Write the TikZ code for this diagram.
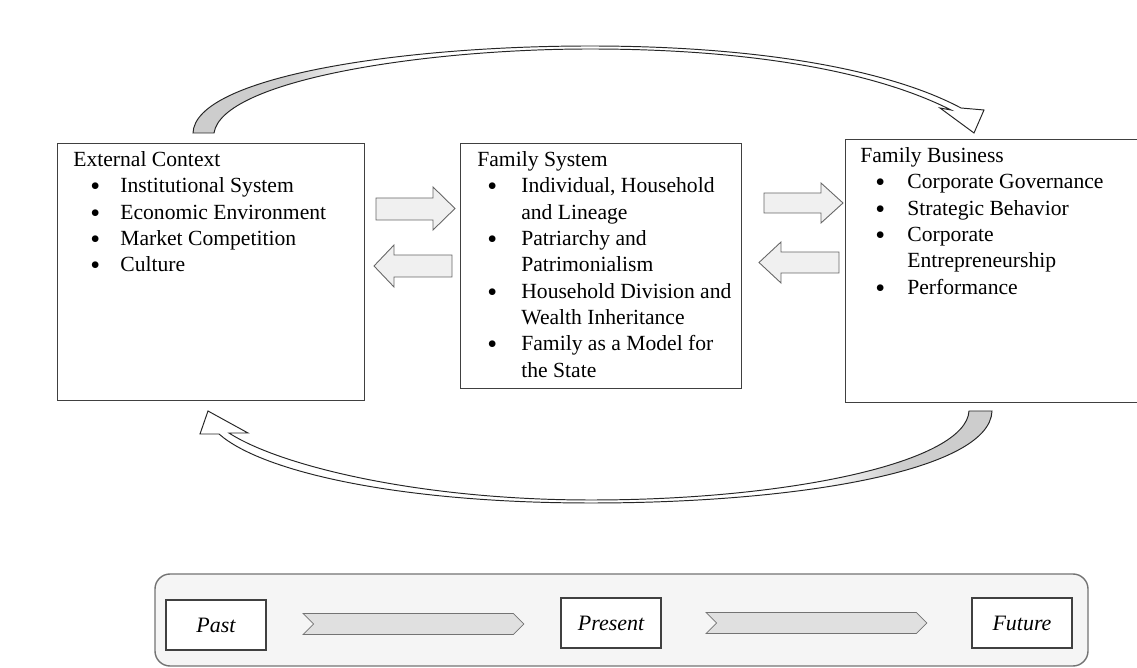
\documentclass[tikz,border=0pt]{standalone}
\usepackage{fontspec}
\setmainfont{Liberation Serif}
\usetikzlibrary{calc,positioning,shapes.symbols}
\definecolor{tailgray}{RGB}{205,205,205}
\pgfdeclarehorizontalshading{topfade}{100bp}{color(0bp)=(tailgray); color(25bp)=(tailgray); color(31bp)=(tailgray); color(36bp)=(white); color(100bp)=(white)}
\pgfdeclarehorizontalshading{botfade}{100bp}{color(0bp)=(white); color(64bp)=(white); color(69bp)=(tailgray); color(75bp)=(tailgray); color(100bp)=(tailgray)}
\newcommand{\bl}[3]{\hspace*{#1}\makebox[#2][l]{\raisebox{-0.3ex}{\fontsize{16}{15}\selectfont\textbullet}}#3}

\begin{document}
\begin{tikzpicture}[x=0.02cm,y=-0.02cm,
  panel/.style={draw=black!75,line width=0.7pt,inner sep=0pt,anchor=north west},
  paneltext/.style={inner sep=0pt,anchor=north west,align=left,font=\fontsize{12.3}{15}\selectfont},
  blockarrow/.style={draw=black!60,fill=black!6,line width=0.5pt},
  loopband/.style={draw=black!85,line width=0.55pt,shade},
  frame/.style={draw=black!55,fill=black!4,rounded corners=0.3cm,line width=0.8pt},
  tbox/.style={draw=black!75,fill=white,line width=0.8pt,minimum width=2cm,minimum height=1cm,font=\fontsize{12.5}{15}\selectfont\itshape},
  chev/.style={signal,signal from=west,signal to=east,draw=black!55,fill=black!12,minimum width=4.42cm,minimum height=0.42cm,inner sep=0pt}]
\useasboundingbox (0,0) rectangle (1137,668);
\clip (0,0) rectangle (1137,668);

\node[panel,minimum width=6.14cm,minimum height=5.14cm] (ext) at (57,143) {};
\node[paneltext] (exttxt) at ([shift={(16,8)}]ext.north west) {External Context\\
\bl{0.34cm}{0.6cm}{Institutional System}\\
\bl{0.34cm}{0.6cm}{Economic Environment}\\
\bl{0.34cm}{0.6cm}{Market Competition}\\
\bl{0.34cm}{0.6cm}{Culture}};

\node[panel,minimum width=5.62cm,minimum height=4.9cm] (fam) at (460,143) {};
\node[paneltext] (famtxt) at ([shift={(17,8)}]fam.north west) {Family System\\
\bl{0.2cm}{0.68cm}{Individual, Household}\\
\hspace*{0.88cm}and Lineage\\
\bl{0.2cm}{0.68cm}{Patriarchy and}\\
\hspace*{0.88cm}Patrimonialism\\
\bl{0.2cm}{0.68cm}{Household Division and}\\
\hspace*{0.88cm}Wealth Inheritance\\
\bl{0.2cm}{0.68cm}{Family as a Model for}\\
\hspace*{0.88cm}the State};

\node[panel,minimum width=6.4cm,minimum height=5.26cm] (biz) at (845,139) {};
\node[paneltext] (biztxt) at ([shift={(15,8)}]biz.north west) {Family Business\\
\bl{0.3cm}{0.64cm}{Corporate Governance}\\
\bl{0.3cm}{0.64cm}{Strategic Behavior}\\
\bl{0.3cm}{0.64cm}{Corporate}\\
\hspace*{0.94cm}Entrepreneurship\\
\bl{0.3cm}{0.64cm}{Performance}};

\draw[blockarrow] (376,198) -- (433,198) -- (433,187) -- (455,208.5) -- (433,230) -- (433,220) -- (376,220) -- cycle;
\draw[blockarrow] (452,255) -- (394,255) -- (394,245) -- (374,266) -- (394,287) -- (394,277) -- (452,277) -- cycle;
\draw[blockarrow] (764,193) -- (821,193) -- (821,183) -- (843,203) -- (821,223) -- (821,213) -- (764,213) -- cycle;
\draw[blockarrow] (839,252) -- (781,252) -- (781,242) -- (759,262.5) -- (781,283) -- (781,273) -- (839,273) -- cycle;

\path[loopband,shading=topfade] (193,133) .. controls (195,77) and (400,46) .. (590,46) .. controls (760,46) and (890,70) .. (961,108) -- (984,110) -- (974,133) -- (940,108) -- (951,110) .. controls (880,74) and (760,49) .. (590,49) .. controls (425,49) and (222,80) .. (214,133) -- cycle;
\path[loopband,shading=botfade] (969,411) -- (992,411) .. controls (990,470) and (800,503) .. (591,503) .. controls (400,503) and (262,472) .. (219,434) -- (200,434) -- (208,411) -- (248,433) -- (229,433) .. controls (280,466) and (420,500) .. (591,500) .. controls (790,500) and (966,462) .. (969,411) -- cycle;

\draw[frame] (155,574) rectangle (1088,666);
\node[tbox] (past) at (216,625) {Past};
\node[tbox] (present) at (611,623) {Present};
\node[tbox] (future) at (1022,623) {Future};
\node[chev] (pastnow) at ($(past.east)!0.5!(present.west)$) {};
\node[chev] (nowfuture) at ($(present.east)!0.5!(future.west)$) {};
\end{tikzpicture}
\end{document}
